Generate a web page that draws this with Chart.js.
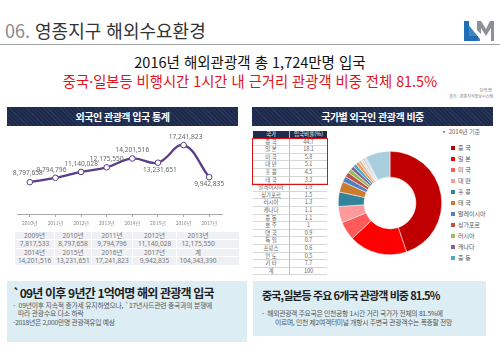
<!DOCTYPE html>
<html lang="ko">
<head>
<meta charset="utf-8">
<script src="https://cdn.jsdelivr.net/npm/chart.js@4.4.1/dist/chart.umd.min.js"></script>
<style>
  body { margin: 0; width: 500px; height: 350px; position: relative; background: #fff; overflow: hidden;
         font-family: "Noto Sans CJK KR", "Noto Sans", sans-serif; }
  .t { position: absolute; white-space: nowrap; line-height: 1; }
  .bar { position: absolute; height: 19px; color: #fff; font-weight: 700; font-size: 10px; letter-spacing: -0.5px;
         text-align: center; line-height: 19px;
         background: repeating-linear-gradient(45deg, #1d2a4a 0 2px, #27365c 2px 3px); }
  .box { position: absolute; background: #dcedf4; }
  .yc { position: absolute; box-sizing: border-box; background: #eef0f3; border-right: 1px solid #fff; border-bottom: 1px solid #fff;
        text-align: center; font-size: 6.5px; color: #777; font-family: "Noto Sans", "Noto Sans CJK KR", sans-serif; white-space: nowrap; }
  .sc { position: absolute; box-sizing: border-box; border-bottom: 1px solid #d6d6d6; text-align: center;
        font-size: 5.5px; color: #666; white-space: nowrap; }
  #legend div { position: absolute; font-size: 6px; color: #555; white-space: nowrap; line-height: 1; }
  #legend span { display: inline-block; width: 4px; height: 4px; margin-right: 3px; vertical-align: middle; }
</style>
</head>
<body>

<div class="t" style="left:5px;top:21px;font-size:18px;color:#333;"><span style="color:#8a8a8a;">06.</span> 영종지구 해외수요환경</div>
<svg style="position:absolute;left:464px;top:20px;" width="30" height="22" viewBox="0 0 30 22">
  <polygon points="0,1 5,1 5,16 14,16 14,21 0,21" fill="#1f6fb5"/>
  <polygon points="3,3 16,19 16,21 3,21" fill="#1f6fb5" opacity="0.85"/>
  <polygon points="13,1 17,1 22,9 26,1 30,1 30,21 27,21 27,8 22,16 17,8 17,14 13,10" fill="#8c9096"/>
</svg>
<div style="position:absolute;left:0;top:44px;width:500px;height:1px;background:#a0a0a0;"></div>

<div class="t" style="left:0;width:500px;text-align:center;top:55px;font-size:14.5px;color:#111;">2016년 해외관광객 총 1,724만명 입국</div>
<div class="t" style="left:0;width:500px;text-align:center;top:74px;font-size:14.3px;color:#e0121b;">중국·일본등 비행시간 1시간 내 근거리 관광객 비중 전체 81.5%</div>
<div class="t" style="right:8px;top:88px;font-size:4px;color:#777;">단위:명</div>
<div class="t" style="right:7px;top:94px;font-size:4px;color:#777;">출처 : 경종지식정보시스템</div>

<div class="bar" style="left:7px;top:107px;width:231px;">외국인 관광객 입국 통계</div>
<div class="bar" style="left:252px;top:107px;width:241px;">국가별 외국인 관광객 비중</div>

<div style="position:absolute;left:12px;top:128px;width:215px;height:101px;"><canvas id="lineChart"></canvas></div>

<div id="yearTable"></div>

<div class="box" style="left:7px;top:281px;width:240px;height:61px;"></div>
<div class="t" style="left:13px;top:286.5px;font-size:12px;font-weight:700;color:#222;letter-spacing:-0.8px;">`09년 이후 9년간 1억여명 해외 관광객 입국</div>
<div class="t" style="left:13px;top:301.5px;font-size:6.8px;color:#555;letter-spacing:-0.2px;">- &nbsp;09년이후 지속적 증가세 유지하였으나, `17년사드관련 중국과의 분쟁에</div>
<div class="t" style="left:18px;top:310px;font-size:6.8px;color:#555;letter-spacing:-0.2px;">따라 관광수요 다소 하락</div>
<div class="t" style="left:13px;top:318.5px;font-size:6.8px;color:#555;letter-spacing:-0.3px;">-2018년은 2,000만명 관광객유입 예상</div>

<div id="shareTable"></div>
<div style="position:absolute;left:252px;top:137.5px;width:74px;height:45px;border:1.5px solid #e01010;"></div>

<div class="t" style="left:441px;top:129px;font-size:6px;color:#666;">▪ 2014년 기준</div>
<div style="position:absolute;left:338px;top:151px;width:104px;height:104px;"><canvas id="donutChart"></canvas></div>
<div id="legend"></div>

<div class="box" style="left:253px;top:281px;width:233px;height:55px;"></div>
<div class="t" style="left:262px;top:289.5px;font-size:11px;font-weight:700;color:#222;letter-spacing:-0.9px;">중국,일본등 주요 6개국 관광객 비중 81.5%</div>
<div class="t" style="left:262px;top:309.5px;font-size:6.8px;color:#555;letter-spacing:-0.3px;">- &nbsp;해외관광객 주요국은 인천공항 1시간 거리 국가가 전체의 81.5%에</div>
<div class="t" style="left:275px;top:319px;font-size:6.8px;color:#555;letter-spacing:-0.3px;">이르며, 인천 제2여객터미널 개항시 주변국 관광객수는 폭증할 전망</div>

<script>
// 연도별 외국인 관광객 입국 (명)
const tableYears = ['2009년', '2010년', '2011년', '2012년', '2013년', '2014년', '2015년', '2016년', '2017년', '계'];
const tableCounts = [7817533, 8797658, 9794796, 11140028, 12175550, 14201516, 13231651, 17241823, 9942835, 104343390];

// 그래프는 2010~2017년만
const chartYears = tableYears.slice(1, 9);
const chartCounts = tableCounts.slice(1, 9);

// 국가별 입국비율 (%), 2014년 기준
const countries = ['중 국', '일 본', '미 국', '대 만', '홍 콩', '태 국', '말레이시아', '싱가포르', '러시아', '캐나다',
  '중 동', '호 주', '영 국', '독 일', '프랑스', '인 도', '기 타'];
const shares = [44.7, 18.1, 5.8, 5.1, 4.5, 3.3, 1.8, 1.5, 1.3, 1.1, 1.1, 1, 0.9, 0.7, 0.6, 0.5, 7.7];
const totalName = '계';
const totalShare = 100;
const legendCount = 11;

const sliceColors = ['#c00000', '#ff0000', '#ff5a5a', '#ff9a9a', '#31849b', '#cc7a2e', '#4f81bd', '#c0504d',
  '#9bbb59', '#8064a2', '#4bacc6', '#f79646', '#e6b9b8', '#d7e4bd', '#ccc1da', '#b7dee8', '#a9cfdf'];

const fmt = n => n.toLocaleString('en-US');

function cell(parent, cls, text, x, y, w, h) {
  const d = document.createElement('div');
  d.className = cls;
  d.style.left = x + 'px';
  d.style.top = y + 'px';
  d.style.width = w + 'px';
  d.style.height = h + 'px';
  d.style.lineHeight = (h - 1) + 'px';
  d.textContent = text;
  parent.appendChild(d);
  return d;
}

// 아래쪽 연도 표
const yTable = document.getElementById('yearTable');
const colEdges = [15, 55, 92, 133, 177, 240];
for (let r = 0; r < 2; r++) {
  for (let c = 0; c < 5; c++) {
    const i = r * 5 + c;
    const x = colEdges[c], w = colEdges[c + 1] - colEdges[c];
    const a = cell(yTable, 'yc', tableYears[i], x, 232 + r * 16.8, w, 8.4);
    const b = cell(yTable, 'yc', fmt(tableCounts[i]), x, 240.4 + r * 16.8, w, 8.4);
    if (c === 4) { a.style.paddingRight = '20px'; b.style.paddingRight = '20px'; }
  }
}

// 국가별 비율 표
const sTable = document.getElementById('shareTable');
const rowH = 7.6;
function addRow(k, a, b, head) {
  const y = 131 + k * rowH;
  const c1 = cell(sTable, 'sc', a, 253, y, 37, rowH);
  const c2 = cell(sTable, 'sc', b, 290, y, 37, rowH);
  c1.style.borderRight = '1px solid #bbb';
  if (head) {
    [c1, c2].forEach(c => { c.style.background = '#1f2c4d'; c.style.color = '#fff'; });
  }
}
addRow(0, '국가', '입국비율(%)', true);
countries.forEach((c, i) => addRow(i + 1, c, String(shares[i])));
addRow(countries.length + 1, totalName, String(totalShare));

// 범례
const legend = document.getElementById('legend');
for (let i = 0; i < legendCount; i++) {
  const d = document.createElement('div');
  d.style.left = '451px';
  d.style.top = (145 + i * 11) + 'px';
  d.innerHTML = '<span style="background:' + sliceColors[i] + '"></span>' + countries[i];
  legend.appendChild(d);
}

// 점 위 숫자 라벨
const pointLabels = {
  id: 'pointLabels',
  afterDatasetsDraw(chart) {
    const place = [[-2, -9], [-4, -8], [0, -8], [0, -8], [0, -8.5], [2, 7.5], [2, -8], [0, 6.5]];
    const c = chart.ctx;
    c.save();
    c.font = '6.6px "Noto Sans", sans-serif';
    c.fillStyle = '#666';
    c.textAlign = 'center';
    c.textBaseline = 'middle';
    chart.getDatasetMeta(0).data.forEach((p, i) => {
      c.fillText(fmt(chartCounts[i]), p.x + place[i][0], p.y + place[i][1]);
    });
    c.restore();
  }
};

new Chart(document.getElementById('lineChart'), {
  type: 'line',
  data: {
    labels: chartYears,
    datasets: [{
      data: chartCounts,
      borderColor: '#5a3d88',
      borderWidth: 2.3,
      tension: 0.4,
      pointRadius: 2.8,
      pointBackgroundColor: '#fff',
      pointBorderColor: '#5a3d88',
      pointBorderWidth: 1
    }]
  },
  options: {
    responsive: true,
    maintainAspectRatio: false,
    animation: false,
    layout: { padding: { top: 5, left: 0, right: 0, bottom: 0 } },
    plugins: { legend: { display: false }, tooltip: { enabled: false } },
    scales: {
      x: {
        offset: true,
        grid: { drawOnChartArea: false, tickLength: 3, color: '#aaa' },
        border: { color: '#aaa' },
        ticks: { font: { size: 5, family: '"Noto Sans CJK KR"' }, color: '#888', padding: 3, maxRotation: 0, autoSkip: false }
      },
      y: { display: false, min: 1550000, max: 20000000 }
    }
  },
  plugins: [pointLabels]
});

new Chart(document.getElementById('donutChart'), {
  type: 'doughnut',
  data: {
    labels: countries,
    datasets: [{
      data: shares,
      backgroundColor: sliceColors,
      borderColor: '#fff',
      borderWidth: 0.5
    }]
  },
  options: {
    responsive: true,
    maintainAspectRatio: false,
    animation: false,
    cutout: '50%',
    layout: { padding: 0 },
    plugins: { legend: { display: false }, tooltip: { enabled: false } }
  }
});
</script>
</body>
</html>
